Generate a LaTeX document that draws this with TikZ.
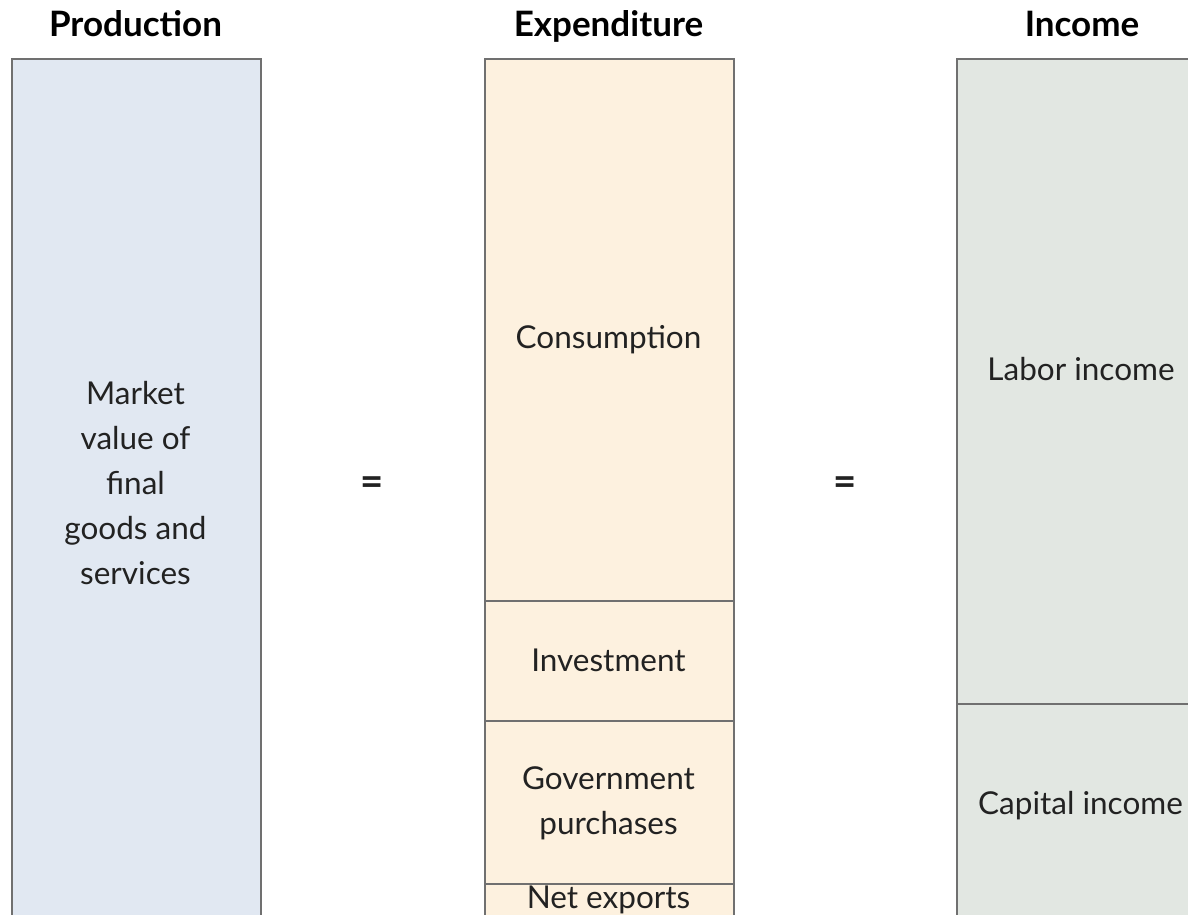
\documentclass[tikz,border=0pt]{standalone}
\usepackage{fontspec}
\setmainfont{Lato}
\definecolor{prodfill}{HTML}{E1E8F2}
\definecolor{expfill}{HTML}{FDF1DF}
\definecolor{incfill}{HTML}{E2E7E2}
\definecolor{edge}{HTML}{707070}
\definecolor{txt}{HTML}{222222}
\begin{document}
\begin{tikzpicture}[x=1pt,y=-1pt,
  panel/.style={draw=edge,line width=2pt,inner sep=0pt,anchor=north west},
  lbl/.style={text=txt,font=\fontsize{31.5}{45}\selectfont,align=center,inner sep=0pt},
  eqs/.style={text=txt,font=\bfseries\fontsize{40}{45}\selectfont,inner sep=0pt},
  ttl/.style={text=black,font=\bfseries\fontsize{35}{40}\selectfont,inner sep=0pt,anchor=base}]
\useasboundingbox (0,0) rectangle (1188,914);
\clip (0,0) rectangle (1188,914);
% Production
\node[panel,fill=prodfill,minimum width=249pt,minimum height=880pt] (prod) at (11,58) {};
% Expenditure
\node[panel,fill=expfill,minimum width=249pt,minimum height=542pt] (cons) at (484,58) {};
\node[panel,fill=expfill,minimum width=249pt,minimum height=120pt] (inv) at (484,600) {};
\node[panel,fill=expfill,minimum width=249pt,minimum height=163pt] (gov) at (484,720) {};
\node[panel,fill=expfill,minimum width=249pt,minimum height=60pt] (nx) at (484,883) {};
% Income
\node[panel,fill=incfill,minimum width=260pt,minimum height=645pt] (lab) at (956,58) {};
\node[panel,fill=incfill,minimum width=260pt,minimum height=240pt] (cap) at (956,703) {};
% titles
\node[ttl] (tprod) at (135.5,36) {Production};
\node[ttl] (texp) at (608.5,36) {Expenditure};
\node[ttl] (tinc) at (1082,36) {Income};
% labels
\node[lbl] (lprod) at (135.5,483) {Market\\value of\\final\\goods and\\services};
\node[lbl] (lcons) at (608.5,340) {Consumption};
\node[lbl] (linv) at (608.5,660) {Investment};
\node[lbl] (lgov) at (608.5,803) {Government\\purchases};
\node[lbl] (lnx) at (608.5,900) {Net exports};
\node[lbl] (llab) at (1081,369) {Labor income};
\node[lbl] (lcap) at (1080.5,806) {Capital income};
% equals signs
\node[eqs] (eq1) at (372,486) {=};
\node[eqs] (eq2) at (845,486) {=};
\end{tikzpicture}
\end{document}
